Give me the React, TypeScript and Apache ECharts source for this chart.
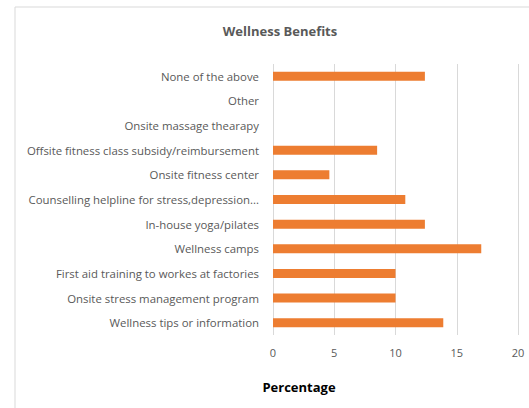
import React, { useEffect, useRef } from "react";
import * as echarts from "echarts";

const categories = [
  "None of the above",
  "Other",
  "Onsite massage thearapy",
  "Offsite fitness class subsidy/reimbursement",
  "Onsite fitness center",
  "Counselling helpline for stress,depression...",
  "In-house yoga/pilates",
  "Wellness camps",
  "First aid training to workes at factories",
  "Onsite stress management program",
  "Wellness tips or information",
];

const values = [12.4, 0, 0, 8.5, 4.6, 10.8, 12.4, 17.0, 10.0, 10.0, 13.9];

const xTicks = { min: 0, max: 20, interval: 5 };

const FONT = "'Open Sans', 'Noto Sans', sans-serif";
const TEXT = "#595959";

export default function App() {
  const ref = useRef<HTMLDivElement>(null);
  useEffect(() => {
    if (!ref.current) return;
    const chart = echarts.init(ref.current, undefined, { renderer: "svg" });
    chart.setOption({
      animation: false,
      backgroundColor: "#ffffff",
      title: {
        text: "Wellness Benefits",
        left: 275,
        top: 19,
        textAlign: "center",
        textStyle: { fontFamily: FONT, fontSize: 13, fontWeight: "bold", color: TEXT },
      },
      graphic: [
        {
          type: "rect",
          shape: { x: 15, y: 7, width: 600, height: 500 },
          style: { fill: "none", stroke: "#d9d9d9", lineWidth: 1 },
          silent: true,
          z: -1,
        },
        {
          type: "text",
          x: 299,
          y: 387,
          style: {
            text: "Percentage",
            fontFamily: FONT,
            fontSize: 13,
            fontWeight: "bold",
            fill: "#000000",
            align: "center",
            verticalAlign: "middle",
          },
        },
      ],
      grid: { left: 273, right: 11, top: 64, bottom: 73, containLabel: false },
      xAxis: {
        type: "value",
        min: xTicks.min,
        max: xTicks.max,
        interval: xTicks.interval,
        axisLine: { show: false },
        axisTick: { show: false },
        axisLabel: { fontFamily: FONT, fontSize: 11, color: TEXT, margin: 12 },
        splitLine: { show: true, lineStyle: { color: "#d9d9d9", width: 1 } },
      },
      yAxis: {
        type: "category",
        data: categories,
        inverse: true,
        axisLine: { show: false },
        axisTick: { show: false },
        axisLabel: { fontFamily: FONT, fontSize: 11.4, color: TEXT, margin: 14 },
      },
      series: [
        {
          type: "bar",
          data: values,
          barWidth: 9,
          itemStyle: { color: "#ED7D31" },
        },
      ],
    });
    return () => chart.dispose();
  }, []);
  return (
    <div
      ref={ref}
      style={{ position: "fixed", left: 0, top: 0, width: 529, height: 408 }}
    />
  );
}
